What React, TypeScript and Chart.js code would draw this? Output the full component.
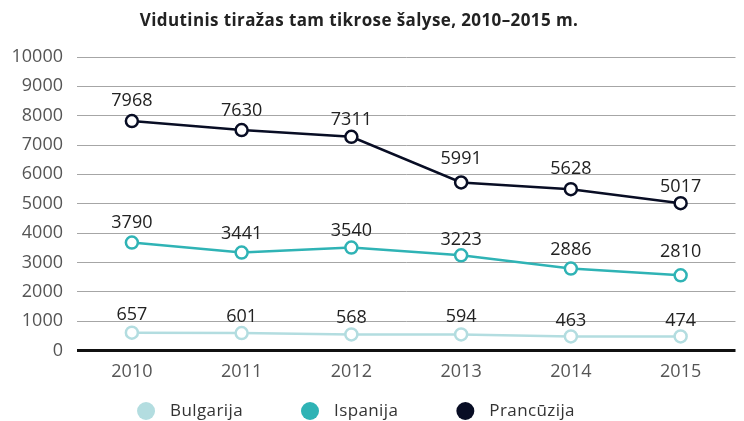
import React, { useEffect, useRef } from "react";
import { Chart, registerables } from "chart.js";

Chart.register(...registerables);

const title = "Vidutinis tiražas tam tikrose šalyse, 2010–2015 m.";
const years = ["2010", "2011", "2012", "2013", "2014", "2015"];
const seriesNames = ["Bulgarija", "Ispanija", "Prancūzija"];
// values as plotted in the picture
const bulgarija = [603, 590, 546, 546, 478, 478];
const ispanija = [3676, 3334, 3505, 3242, 2788, 2560];
const prancuzija = [7816, 7509, 7280, 5723, 5495, 5017];
// value labels as printed in the picture
const bulgarijaLabels = [657, 601, 568, 594, 463, 474];
const ispanijaLabels = [3790, 3441, 3540, 3223, 2886, 2810];
const prancuzijaLabels = [7968, 7630, 7311, 5991, 5628, 5017];
const yTicks = [0, 1000, 2000, 3000, 4000, 5000, 6000, 7000, 8000, 9000, 10000];

const colors = ["#b3dde0", "#2fb3b5", "#080d24"];
const FONT = "'Open Sans', 'DejaVu Sans', sans-serif";

const decorPlugin = {
  id: "decor",
  afterDatasetsDraw(chart: any) {
    const { ctx } = chart;
    const yScale = chart.scales.y;
    const all = [bulgarijaLabels, ispanijaLabels, prancuzijaLabels];
    ctx.save();
    ctx.font = `18px ${FONT}`;
    ctx.fillStyle = "#222222";
    ctx.textAlign = "center";
    ctx.textBaseline = "middle";
    chart.data.datasets.forEach((ds: any, i: number) => {
      const meta = chart.getDatasetMeta(i);
      meta.data.forEach((pt: any, j: number) => {
        const v = all[i][j];
        const y = yScale.getPixelForValue(v) - 16;
        ctx.fillText(String(v), pt.x, y);
      });
    });
    ctx.restore();
  },
  afterDraw(chart: any) {
    const { ctx, width, height } = chart;
    ctx.save();
    // title
    ctx.font = `bold 17px ${FONT}`;
    try { (ctx as any).letterSpacing = "0.4px"; } catch (e) {}
    ctx.fillStyle = "#222222";
    ctx.textAlign = "center";
    ctx.textBaseline = "middle";
    ctx.fillText(title, width / 2 - 13, 21);
    try { (ctx as any).letterSpacing = "0px"; } catch (e) {}
    // legend
    const r = 9;
    const gapText = 15;
    const gapItem = 58;
    ctx.font = `17px ${FONT}`;
    try { (ctx as any).letterSpacing = "0.4px"; } catch (e) {}
    const widths = seriesNames.map((n) => 2 * r + gapText + ctx.measureText(n).width);
    const total = widths.reduce((a, b) => a + b, 0) + gapItem * (seriesNames.length - 1);
    let x = width / 2 - 16 - total / 2;
    const cy = height - 10;
    seriesNames.forEach((n, i) => {
      ctx.beginPath();
      ctx.arc(x + r, cy, r, 0, Math.PI * 2);
      ctx.fillStyle = colors[i];
      ctx.fill();
      ctx.fillStyle = "#333333";
      ctx.textAlign = "left";
      ctx.fillText(n, x + 2 * r + gapText, cy);
      x += widths[i] + gapItem;
    });
    ctx.restore();
  },
};

export default function App() {
  const ref = useRef<HTMLCanvasElement>(null);
  useEffect(() => {
    document.body.style.margin = "0";
    const values = [bulgarija, ispanija, prancuzija];
    const chart = new Chart(ref.current!, {
      type: "line",
      data: {
        labels: years,
        datasets: seriesNames.map((name, i) => ({
          label: name,
          data: values[i],
          borderColor: colors[i],
          backgroundColor: colors[i],
          borderWidth: 2.5,
          pointRadius: 6,
          pointBorderWidth: 2.5,
          pointBackgroundColor: "#ffffff",
          pointBorderColor: colors[i],
          tension: 0,
        })),
      },
      options: {
        animation: false,
        responsive: false,
        maintainAspectRatio: false,
        layout: { padding: { left: 8, right: 0, top: 57, bottom: 35 } },
        plugins: {
          title: { display: false },
          legend: { display: false },
          tooltip: { enabled: false },
        },
        scales: {
          x: {
            offset: true,
            grid: { display: false },
            border: { display: false },
            afterFit: (axis: any) => {
              axis.paddingLeft = 0;
              axis.paddingRight = 0;
            },
            ticks: { color: "#555555", font: { family: FONT, size: 18 }, padding: 3 },
          },
          y: {
            min: 0,
            max: 10000,
            afterBuildTicks: (axis: any) => {
              axis.ticks = yTicks.map((v) => ({ value: v }));
            },
            afterFit: (axis: any) => {
              axis.width = 69;
            },
            border: { display: false },
            grid: {
              drawTicks: false,
              color: (c: any) => (c.tick && c.tick.value === 0 ? "#111111" : "#a6a6a6"),
              lineWidth: (c: any) => (c.tick && c.tick.value === 0 ? 3 : 1),
            },
            ticks: {
              color: "#555555",
              font: { family: FONT, size: 18 },
              padding: 14,
              callback: (v: any) => String(v),
            },
          },
        },
      },
      plugins: [decorPlugin],
    });
    return () => chart.destroy();
  }, []);
  return (
    <div style={{ position: "absolute", left: 0, top: 0, width: 744, height: 421 }}>
      <canvas ref={ref} width={744} height={421} style={{ display: "block" }} />
    </div>
  );
}
